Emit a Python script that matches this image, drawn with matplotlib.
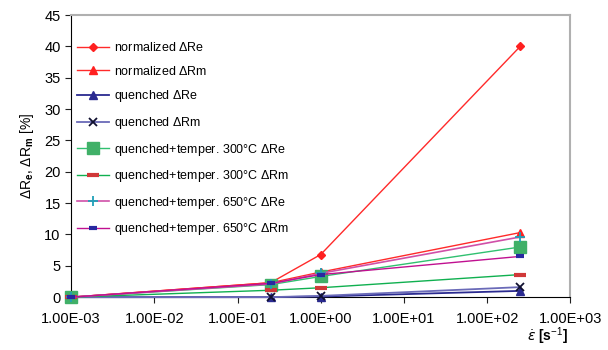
import numpy as np
from matplotlib import pyplot as plt

rate = [1e-3, 0.25, 1.0, 250.0]

norm_re = [0, 2.3, 6.8, 40.0]
norm_rm = [0, 2.3, 4.0, 10.3]
quen_re = [0, 0, 0.1, 1.0]
quen_rm = [0, 0, 0.2, 1.6]
t300_re = [0, 2.0, 3.3, 8.0]
t300_rm = [0, 1.1, 1.5, 3.6]
t650_re = [0, 2.1, 3.8, 9.6]
t650_rm = [0, 2.2, 3.6, 6.5]

labels = ['normalized $\\Delta$Re', 'normalized $\\Delta$Rm',
          'quenched $\\Delta$Re', 'quenched $\\Delta$Rm',
          'quenched+temper. 300\u00b0C $\\Delta$Re', 'quenched+temper. 300\u00b0C $\\Delta$Rm',
          'quenched+temper. 650\u00b0C $\\Delta$Re', 'quenched+temper. 650\u00b0C $\\Delta$Rm']

plt.rcParams['font.family'] = ['Liberation Sans', 'DejaVu Sans']
plt.rcParams['mathtext.fontset'] = 'custom'
plt.rcParams['mathtext.rm'] = 'Liberation Sans'
plt.rcParams['mathtext.bf'] = 'Liberation Sans:bold'

fig = plt.figure(figsize=(6.08, 3.5), dpi=100)
ax = fig.add_axes([0.117, 0.151, 0.821, 0.806])

kw = dict(clip_on=False, zorder=3)
ax.plot(rate, norm_re, color='#ff2a2a', lw=1, marker='D', ms=4, mfc='#ff2020', mec='#ff2020', label=labels[0], **kw)
ax.plot(rate, norm_rm, color='#ff2a2a', lw=1, marker='^', ms=6, mfc='#ff2020', mec='#ff2020', label=labels[1], **kw)
ax.plot(rate, quen_re, color='#2a2a90', lw=1.3, marker='^', ms=6, mfc='#2a2a90', mec='#2a2a90', label=labels[2], **kw)
ax.plot(rate, quen_rm, color='#6a6ab8', lw=1.3, marker='x', ms=6, mec='#101030', mew=1.3, label=labels[3], **kw)
ax.plot(rate, t300_re, color='#30c070', lw=1, marker='s', ms=9, mfc='#40b068', mec='#40b068', label=labels[4], **kw)
ax.plot(rate, t300_rm, color='#10b050', lw=1, marker='_', ms=8, mew=3, mec='#d03838', label=labels[5], **kw)
ax.plot(rate, t650_re, color='#d050a8', lw=1.2, marker='+', ms=7, mew=1.3, mec='#20a0b8', label=labels[6], **kw)
ax.plot(rate, t650_rm, color='#c01090', lw=1, marker='_', ms=6, mew=3, mec='#2828a0', label=labels[7], **kw)

ax.set_xscale('log')
ax.set_xlim(1e-3, 1e3)
ax.set_ylim(0, 45)
ax.set_yticks(np.arange(0, 46, 5))
ax.set_xticks([1e-3, 1e-2, 1e-1, 1e0, 1e1, 1e2, 1e3])
ax.set_xticklabels(['1.00E-03', '1.00E-02', '1.00E-01', '1.00E+00', '1.00E+01', '1.00E+02', '1.00E+03'])
ax.minorticks_off()
ax.tick_params(labelsize=10.5, length=4, color='#202020')
ax.tick_params(axis='x', pad=7)
for side in ['top', 'right']:
    ax.spines[side].set_color('#b0b0b0')
    ax.spines[side].set_linewidth(1.5)

ax.set_ylabel('$\\Delta$R$_{\\mathbf{e}}$, $\\Delta$R$_{\\mathbf{m}}$ [%]', fontsize=10, labelpad=6)
fig.text(0.9, 0.04, '$\\dot{\\varepsilon}$ [s$^{-1}$]', fontsize=10, fontweight='bold', ha='center', va='center')

ax.legend(loc='upper left', bbox_to_anchor=(0.0, 0.93), frameon=False, fontsize=9,
          labelspacing=0.85, handlelength=2.5, handletextpad=0.4, borderaxespad=0.1)

fig.savefig('out.png', dpi=100)
